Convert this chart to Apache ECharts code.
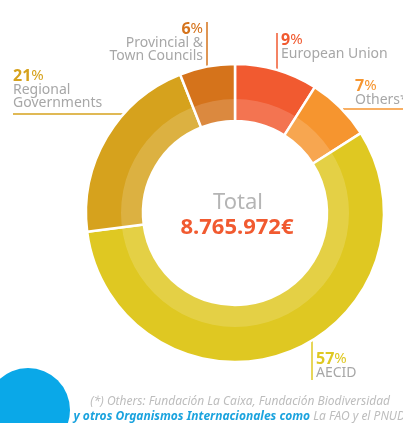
<!DOCTYPE html>
<html>
<head>
<meta charset="utf-8">
<script src="https://cdn.jsdelivr.net/npm/echarts@6/dist/echarts.min.js"></script>
<style>
html,body{margin:0;padding:0;background:#fff;}
#chart{width:403px;height:423px;}
</style>
</head>
<body>
<div id="chart"></div>
<script>
// datos del gráfico
var names = ['European Union', 'Others*', 'AECID', 'Regional\nGovernments', 'Provincial &\nTown Councils'];
var values = [9, 7, 57, 21, 6];
var colors = ['#F15A30', '#F6952F', '#DFC822', '#D6A21D', '#D5731B'];
var total = '8.765.972€';

var myChart = echarts.init(document.getElementById('chart'));
var font = '"Noto Sans", sans-serif';
var cx = 235, cy = 213;

// posiciones de las etiquetas (x, y del %, alineación, línea guía)
var labelPos = [
    {x: 281, y: 32, align: 'left', line: [[277, 33], [277, 69]]},
    {x: 355, y: 78, align: 'left', line: [[343, 109], [403, 109]]},
    {x: 316, y: 351, align: 'left', line: [[312, 340], [312, 380]]},
    {x: 13, y: 68, align: 'left', line: [[13, 114], [124, 114]]},
    {x: 203, y: 21, align: 'right', line: [[207, 22], [207, 66]]}
];

var graphics = [];
values.forEach(function (v, i) {
    var p = labelPos[i];
    graphics.push({
        type: 'line', silent: true,
        shape: {x1: p.line[0][0], y1: p.line[0][1], x2: p.line[1][0], y2: p.line[1][1]},
        style: {stroke: colors[i], lineWidth: 1.5}
    });
    graphics.push({
        type: 'text', x: p.x, y: p.y,
        style: {
            text: '{p|' + v + '}{s|%}\n{n|' + names[i].split('\n').join('}\n{n|') + '}',
            align: p.align, verticalAlign: 'top',
            rich: {
                p: {fontFamily: font, fontSize: 16, fontWeight: 'bold', fill: colors[i], lineHeight: 16},
                s: {fontFamily: font, fontSize: 15, fill: colors[i], lineHeight: 16},
                n: {fontFamily: font, fontSize: 14, fill: '#A7A7A7', lineHeight: 13}
            }
        }
    });
});

// círculo azul y nota al pie
graphics.push({
    type: 'circle', silent: true,
    shape: {cx: 28, cy: 410, r: 42},
    style: {fill: '#0AA8E8'}
});
graphics.push({
    type: 'text', x: 390, y: 396,
    style: {
        text: '(*) Others: Fundación La Caixa, Fundación Biodiversidad',
        align: 'right', fontFamily: font, fontStyle: 'italic', fontSize: 12, fill: '#BDBDBD'
    }
});
graphics.push({
    type: 'text', x: 405, y: 411,
    style: {
        text: '{b|y otros Organismos Internacionales como}{g| La FAO y el PNUD}',
        align: 'right',
        rich: {
            b: {fontFamily: font, fontStyle: 'italic', fontWeight: 'bold', fontSize: 12, fill: '#1BA3DE'},
            g: {fontFamily: font, fontStyle: 'italic', fontSize: 12, fill: '#BDBDBD'}
        }
    }
});
// total en el centro
graphics.push({
    type: 'text', x: cx + 3, y: 203,
    style: {text: 'Total', align: 'center', verticalAlign: 'middle', fontFamily: font, fontSize: 22, fill: '#B5B5B5'}
});
graphics.push({
    type: 'text', x: cx + 2, y: 228,
    style: {text: total, align: 'center', verticalAlign: 'middle', fontFamily: font, fontSize: 22, fontWeight: 'bold', fill: '#F15A30'}
});

var option = {
    animation: false,
    series: [
        {
            type: 'pie',
            center: [cx, cy],
            radius: [92, 149],
            startAngle: 90,
            clockwise: true,
            silent: true,
            label: {show: false},
            labelLine: {show: false},
            itemStyle: {borderColor: '#fff', borderWidth: 2.5},
            data: values.map(function (v, i) {
                return {name: names[i], value: v, itemStyle: {color: colors[i]}};
            })
        },
        {
            // banda interior más clara
            type: 'pie',
            center: [cx, cy],
            radius: [92, 114],
            silent: true,
            label: {show: false},
            labelLine: {show: false},
            itemStyle: {color: 'rgba(255,255,255,0.16)'},
            data: [1]
        }
    ],
    graphic: graphics
};
myChart.setOption(option);
</script>
</body>
</html>
